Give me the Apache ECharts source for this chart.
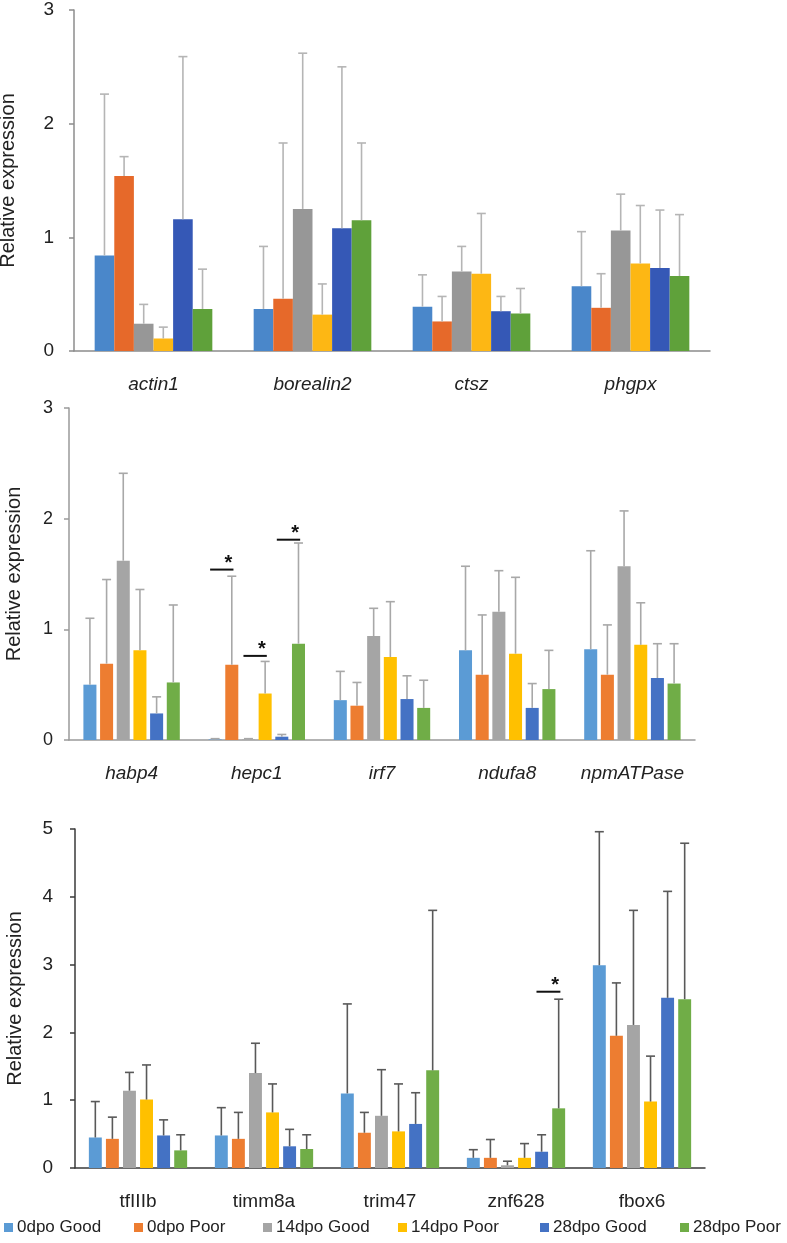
<!DOCTYPE html>
<html>
<head>
<meta charset="utf-8">
<script src="https://cdn.jsdelivr.net/npm/echarts@6/dist/echarts.min.js"></script>
<style>
html,body{margin:0;padding:0;background:#fff;}
#chart{width:787px;height:1243px;}
</style>
</head>
<body>
<div id="chart"></div>
<script>
// ---------- DATA ----------
const groups = ['0dpo Good','0dpo Poor','14dpo Good','14dpo Poor','28dpo Good','28dpo Poor'];

// Panel A
const catsA = ['actin1','borealin2','ctsz','phgpx'];
const meanA = [
  [0.84, 0.37, 0.39, 0.57],
  [1.54, 0.46, 0.26, 0.38],
  [0.24, 1.25, 0.70, 1.06],
  [0.11, 0.32, 0.68, 0.77],
  [1.16, 1.08, 0.35, 0.73],
  [0.37, 1.15, 0.33, 0.66]
];
const upperA = [
  [2.26, 0.92, 0.67, 1.05],
  [1.71, 1.83, 0.48, 0.68],
  [0.41, 2.62, 0.92, 1.38],
  [0.21, 0.59, 1.21, 1.28],
  [2.59, 2.50, 0.48, 1.24],
  [0.72, 1.83, 0.55, 1.20]
];

// Panel B
const catsB = ['habp4','hepc1','irf7','ndufa8','npmATPase'];
const meanB = [
  [0.50, 0.005, 0.36, 0.81, 0.82],
  [0.69, 0.68, 0.31, 0.59, 0.59],
  [1.62, 0.005, 0.94, 1.16, 1.57],
  [0.81, 0.42, 0.75, 0.78, 0.86],
  [0.24, 0.03, 0.37, 0.29, 0.56],
  [0.52, 0.87, 0.29, 0.46, 0.51]
];
const upperB = [
  [1.10, 0.012, 0.62, 1.57, 1.71],
  [1.45, 1.48, 0.52, 1.13, 1.04],
  [2.41, 0.012, 1.19, 1.53, 2.07],
  [1.36, 0.71, 1.25, 1.47, 1.24],
  [0.39, 0.05, 0.58, 0.51, 0.87],
  [1.22, 1.78, 0.54, 0.81, 0.87]
];
const sigCatB = [1, 1, 1];
const sigFromB = [0, 2, 4];
const sigToB = [1, 3, 5];
const sigLevelB = [1.54, 0.76, 1.81];

// Panel C
const catsC = ['tfIIIb','timm8a','trim47','znf628','fbox6'];
const meanC = [
  [0.45, 0.48, 1.10, 0.15, 2.99],
  [0.43, 0.43, 0.52, 0.15, 1.95],
  [1.14, 1.40, 0.77, 0.04, 2.11],
  [1.01, 0.82, 0.54, 0.15, 0.98],
  [0.48, 0.32, 0.65, 0.24, 2.51],
  [0.26, 0.28, 1.44, 0.88, 2.49]
];
const upperC = [
  [0.98, 0.89, 2.42, 0.27, 4.96],
  [0.75, 0.82, 0.82, 0.42, 2.73],
  [1.41, 1.84, 1.45, 0.10, 3.80],
  [1.52, 1.24, 1.24, 0.36, 1.65],
  [0.71, 0.57, 1.11, 0.49, 4.08],
  [0.49, 0.49, 3.80, 2.49, 4.79]
];
const sigCatC = [3];
const sigFromC = [4];
const sigToC = [5];
const sigLevelC = [2.60];

// ---------- STYLE ----------
const officeColors = ['#5B9BD5','#ED7D31','#A5A5A5','#FFC000','#4472C4','#70AD47'];
const topColors = ['#4A87CA','#E6692A','#979797','#FDB714','#3558B6','#5FA13A'];

const panels = [
  {cats: catsA, mean: meanA, upper: upperA, colors: topColors,
   grid: {left: 74, top: 10, width: 636, height: 341},
   yMax: 3, axisColor: '#8c8c8c', errColor: '#b5b5b5', catGap: 0.26, barGap: 0,
   italic: 'italic', catSize: 19, tickSize: 19, tickMargin: 20, nameGap: 56, sig: null},
  {cats: catsB, mean: meanB, upper: upperB, colors: officeColors,
   grid: {left: 69, top: 408, width: 626, height: 332},
   yMax: 3, axisColor: '#9a9a9a', errColor: '#a8a8a8', catGap: 0.23, barGap: 0.28,
   italic: 'italic', catSize: 19, tickSize: 18, tickMargin: 16, nameGap: 45,
   sig: {cat: sigCatB, from: sigFromB, to: sigToB, level: sigLevelB}},
  {cats: catsC, mean: meanC, upper: upperC, colors: officeColors,
   grid: {left: 75, top: 829, width: 630, height: 339},
   yMax: 5, axisColor: '#3a3a3a', errColor: '#595959', catGap: 0.22, barGap: 0.32,
   italic: 'normal', catSize: 19, tickSize: 19, tickMargin: 22, nameGap: 50,
   sig: {cat: sigCatC, from: sigFromC, to: sigToC, level: sigLevelC}}
];

const FONT = 'Liberation Sans, Arial, sans-serif';

function barOffset(band, p, gi) {
  const n = groups.length;
  const usable = band * (1 - p.catGap);
  const w = usable / (n + (n - 1) * p.barGap);
  return {x: -usable / 2 + gi * w * (1 + p.barGap) + w / 2, step: w * (1 + p.barGap), w: w};
}

const grids = [], xAxes = [], yAxes = [], series = [];
panels.forEach((p, pi) => {
  grids.push(Object.assign({outerBoundsMode: 'none', containLabel: false}, p.grid));
  xAxes.push({
    type: 'category', gridIndex: pi, data: p.cats,
    axisLine: {lineStyle: {color: p.axisColor, width: 1.5}},
    axisTick: {show: false},
    axisLabel: {interval: 0, margin: 24, fontSize: p.catSize, fontStyle: p.italic,
                color: '#222', fontFamily: FONT}
  });
  yAxes.push({
    type: 'value', gridIndex: pi, min: 0, max: p.yMax, interval: 1,
    name: 'Relative expression', nameLocation: 'middle', nameGap: p.nameGap,
    nameTextStyle: {fontSize: 20, color: '#222', fontFamily: FONT},
    axisLine: {show: true, lineStyle: {color: p.axisColor, width: 1.5}},
    axisTick: {show: true, length: 5, lineStyle: {color: p.axisColor, width: 1.5}},
    splitLine: {show: false},
    axisLabel: {margin: p.tickMargin, fontSize: p.tickSize, color: '#222', fontFamily: FONT}
  });
  groups.forEach((g, gi) => {
    series.push({
      type: 'bar', name: g, xAxisIndex: pi, yAxisIndex: pi,
      data: p.mean[gi],
      barGap: (p.barGap * 100) + '%', barCategoryGap: (p.catGap * 100) + '%',
      itemStyle: {color: p.colors[gi]},
      emphasis: {disabled: true}, z: 2
    });
  });
  groups.forEach((g, gi) => {
    series.push({
      type: 'custom', xAxisIndex: pi, yAxisIndex: pi, z: 5, silent: true,
      data: p.cats.map((c, ci) => [ci, p.mean[gi][ci], p.upper[gi][ci]]),
      encode: {x: 0, y: 2},
      renderItem: function (params, api) {
        const ci = api.value(0), m = api.value(1), u = api.value(2);
        const band = api.size([1, 0])[0];
        const off = barOffset(band, p, gi);
        const x = api.coord([ci, 0])[0] + off.x;
        const y1 = api.coord([ci, m])[1];
        const y2 = api.coord([ci, u])[1];
        const st = {stroke: p.errColor, lineWidth: 1.6};
        return {type: 'group', children: [
          {type: 'line', shape: {x1: x, y1: y1, x2: x, y2: y2}, style: st},
          {type: 'line', shape: {x1: x - 4.5, y1: y2, x2: x + 4.5, y2: y2}, style: st}
        ]};
      }
    });
  });
  if (p.sig) {
    series.push({
      type: 'custom', xAxisIndex: pi, yAxisIndex: pi, z: 6, silent: true,
      data: p.sig.cat.map((c, k) => [c, p.sig.from[k], p.sig.to[k], p.sig.level[k]]),
      encode: {x: 0, y: 3},
      renderItem: function (params, api) {
        const ci = api.value(0), f = api.value(1), t = api.value(2), lv = api.value(3);
        const band = api.size([1, 0])[0];
        const o0 = barOffset(band, p, 0);
        const cx = api.coord([ci, 0])[0];
        const xa = cx + o0.x + (f - 0.3) * o0.step;
        const xb = cx + o0.x + (t + 0.1) * o0.step;
        const xs = cx + o0.x + (t - 0.2) * o0.step;
        const y = api.coord([ci, lv])[1];
        return {type: 'group', children: [
          {type: 'line', shape: {x1: xa, y1: y, x2: xb, y2: y}, style: {stroke: '#111', lineWidth: 2}},
          {type: 'text', x: xs, y: y - 6, style: {text: '*', fill: '#111', font: 'bold 20px ' + FONT,
            textAlign: 'center', textVerticalAlign: 'middle'}}
        ]};
      }
    });
  }
});

const legendLefts = [4, 134, 263, 398, 540, 680];
const legends = groups.map((g, gi) => ({
  left: legendLefts[gi], top: 1219, itemWidth: 9, itemHeight: 9, itemGap: 5,
  icon: 'rect', selectedMode: false, padding: 0,
  data: [{name: g, itemStyle: {color: officeColors[gi]}}],
  textStyle: {fontSize: 17, color: '#222', fontFamily: FONT, padding: [0, 0, 0, -1]}
}));

const chart = echarts.init(document.getElementById('chart'));
chart.setOption({
  animation: false,
  backgroundColor: '#fff',
  grid: grids, xAxis: xAxes, yAxis: yAxes,
  legend: legends,
  series: series
});
</script>
</body>
</html>
